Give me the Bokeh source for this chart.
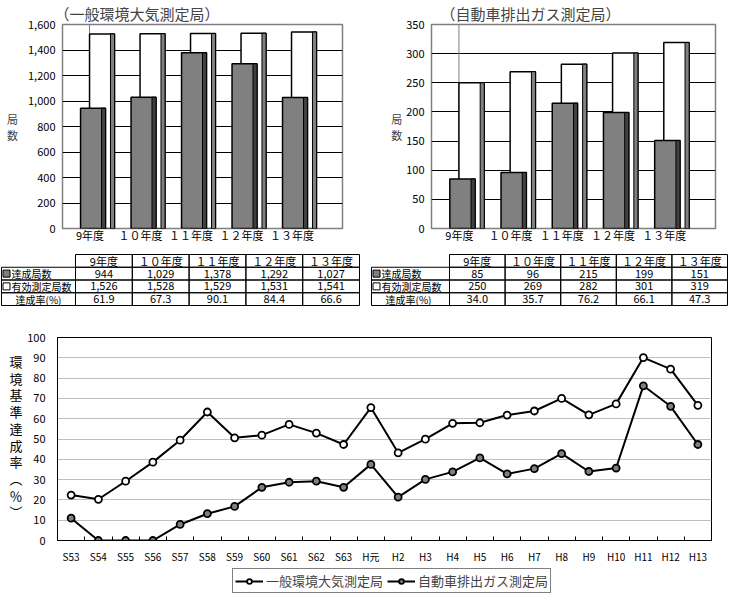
from bokeh.plotting import figure
from bokeh.models import (Range1d, FixedTicker, NumeralTickFormatter, Title, Legend,
                          LegendItem, ColumnDataSource, Span)
from bokeh.layouts import column, row
from bokeh.transform import dodge
from bokeh.embed import file_html
from bokeh.resources import INLINE
from bokeh.core.properties import value

FONT = "Noto Sans CJK JP"

# ---------------- data ----------------
years = ["9年度", "１０年度", "１１年度", "１２年度", "１３年度"]
ippan_achieved = [944, 1029, 1378, 1292, 1027]
ippan_valid = [1526, 1528, 1529, 1531, 1541]
ippan_rate = ["61.9", "67.3", "90.1", "84.4", "66.6"]
jihai_achieved = [85, 96, 215, 199, 151]
jihai_valid = [250, 269, 282, 301, 319]
jihai_rate = ["34.0", "35.7", "76.2", "66.1", "47.3"]

row_labels = ["達成局数", "有効測定局数", "達成率(%)"]

era_labels = ["S53", "S54", "S55", "S56", "S57", "S58", "S59", "S60", "S61", "S62", "S63",
              "H元", "H2", "H3", "H4", "H5", "H6", "H7", "H8", "H9", "H10", "H11", "H12", "H13"]
ippan_trend = [22.4, 20.3, 29.2, 38.6, 49.4, 63.3, 50.6, 51.9, 57.2, 52.9, 47.3,
               65.5, 43.2, 49.9, 57.7, 58.0, 61.8, 63.8, 70.0, 61.9, 67.3, 90.1, 84.4, 66.6]
jihai_trend = [11.0, 0.0, 0.0, 0.0, 7.9, 13.2, 16.8, 26.2, 28.7, 29.2, 26.2,
               37.5, 21.4, 30.1, 33.8, 40.7, 32.8, 35.4, 42.8, 34.0, 35.7, 76.2, 66.1, 47.3]
series_names = ["一般環境大気測定局", "自動車排出ガス測定局"]
y_label_chars = ["環", "境", "基", "準", "達", "成", "率", "︵", "％", "︶"]

# ---------------- styles ----------------
BW = 0.495       # bar width (category units)
GRAY_OFF = 0.06
WHITE_OFF = 0.238
SW = 0.08        # side stripe width
GRAY = "#808080"
DARK = "#404040"


def bar_chart(title, achieved, valid, ymax, ystep, comma, left, frame_w, right,
              title_offset, label_standoff):
    n = len(years)
    src = ColumnDataSource(dict(x=list(range(n)), a=achieved, v=valid))
    p = figure(frame_width=frame_w, frame_height=204,
               x_range=Range1d(-0.545, 5.0), y_range=Range1d(0, ymax),
               output_backend="svg", toolbar_location=None,
               min_border_left=left, min_border_right=right,
               min_border_top=20, min_border_bottom=20)
    p.title = Title(text=title, align="left", offset=title_offset, text_font=FONT,
                    text_font_size="15px", text_font_style="normal", standoff=1)
    p.outline_line_color = GRAY
    p.outline_line_width = 1.5
    p.xgrid.visible = False
    p.ygrid.ticker = FixedTicker(ticks=list(range(ystep, ymax, ystep)))
    p.ygrid.grid_line_color = "black"
    p.ygrid.grid_line_width = 1

    p.add_layout(Span(location=WHITE_OFF - BW / 2, dimension="height", line_color=GRAY,
                      line_width=1, level="underlay"))

    p.vbar(x=dodge("x", WHITE_OFF, range=p.x_range), top="v", width=BW, source=src,
           fill_color="white", line_color="black", line_width=1.5)
    p.vbar(x=dodge("x", WHITE_OFF + BW / 2 - SW / 2, range=p.x_range), top="v", width=SW,
           source=src, fill_color=GRAY, line_color="black", line_width=1)
    p.vbar(x=dodge("x", GRAY_OFF, range=p.x_range), top="a", width=BW, source=src,
           fill_color=GRAY, line_color="black", line_width=1.5)
    p.vbar(x=dodge("x", GRAY_OFF + BW / 2 - SW / 2, range=p.x_range), top="a", width=SW,
           source=src, fill_color=DARK, line_color="black", line_width=1)

    p.xaxis.ticker = FixedTicker(ticks=list(range(n)))
    p.xaxis.major_label_overrides = {i: y for i, y in enumerate(years)}
    p.yaxis.ticker = FixedTicker(ticks=list(range(0, ymax + 1, ystep)))
    if comma:
        p.yaxis.formatter = NumeralTickFormatter(format="0,0")
    for ax in (p.xaxis, p.yaxis):
        ax.axis_line_color = None
        ax.major_tick_line_color = None
        ax.minor_tick_line_color = None
        ax.major_tick_out = 0
        ax.major_label_text_font = FONT
        ax.major_label_text_font_size = "11px"
        ax.major_label_text_color = "black"
    p.xaxis.major_label_standoff = -2
    p.yaxis.major_label_standoff = 7
    p.yaxis.axis_label = "局\n数"
    p.yaxis.axis_label_orientation = "horizontal"
    p.yaxis.axis_label_text_font = FONT
    p.yaxis.axis_label_text_font_size = "11px"
    p.yaxis.axis_label_text_font_style = "normal"
    p.yaxis.axis_label_text_line_height = 1.0
    p.yaxis.axis_label_standoff = label_standoff
    return p


def table_fig(width, x0, w0, wc, achieved, valid, rate):
    H = 62
    y0 = 6
    rh = 12.75
    ncol = len(years)
    p = figure(width=width, height=H, x_range=Range1d(0, width), y_range=Range1d(H, 0),
               output_backend="svg", toolbar_location=None, min_border=0,
               x_axis_type=None, y_axis_type=None)
    p.outline_line_color = None
    p.grid.visible = False
    body = [[f"{v:,}" for v in achieved], [f"{v:,}" for v in valid], list(rate)]
    rows = [years] + body
    L, R, T, B = [], [], [], []
    tx, ty, tt = [], [], []
    for r in range(len(rows)):
        for c in range(ncol + 1):
            if r == 0 and c == 0:
                continue
            left = x0 if c == 0 else x0 + w0 + (c - 1) * wc
            right = x0 + w0 if c == 0 else left + wc
            L.append(left); R.append(right)
            T.append(y0 + r * rh); B.append(y0 + (r + 1) * rh)
            if c > 0:
                tx.append((left + right) / 2)
                ty.append(y0 + (r + 0.5) * rh)
                tt.append(rows[r][c - 1])
    p.quad(left=L, right=R, top=T, bottom=B, fill_color=None, line_color="black", line_width=1)
    p.text(x=tx, y=ty, text=tt, text_align="center", text_baseline="middle",
           text_font=value(FONT), text_font_size="11px", text_color="black")
    hy = [y0 + (r + 1.5) * rh for r in range(len(row_labels))]
    hx = [x0 + 10, x0 + 10, x0 + 14]
    p.text(x=hx, y=hy, text=row_labels, text_align="left", text_baseline="middle",
           text_font=value(FONT), text_font_size="10px", text_color="black")
    p.rect(x=[x0 + 5, x0 + 5], y=hy[:2], width=7, height=7,
           fill_color=[GRAY, "white"], line_color="black", line_width=1)
    return p


f1 = bar_chart("（一般環境大気測定局）", ippan_achieved, ippan_valid, 1600, 200, True,
               62, 280, 20, -8, 7)
f2 = bar_chart("（自動車排出ガス測定局）", jihai_achieved, jihai_valid, 350, 50, False,
               69, 284, 14, 9, 1)
t1 = table_fig(362, 1, 74, 56.8, ippan_achieved, ippan_valid, ippan_rate)
t2 = table_fig(367, 9, 78, 55.6, jihai_achieved, jihai_valid, jihai_rate)

# ---------------- line chart ----------------
n = len(era_labels)
xs = list(range(n))
LAB_W = 24
LH = 256
FH = 202
p3 = figure(width=729 - LAB_W, height=LH, x_range=Range1d(-0.5, n - 0.5),
            y_range=Range1d(0, 100), output_backend="svg", toolbar_location=None,
            min_border_left=33, min_border_right=18, min_border_top=27, min_border_bottom=24)
p3.outline_line_color = "black"
p3.outline_line_width = 1
p3.xgrid.visible = False
p3.ygrid.ticker = FixedTicker(ticks=list(range(10, 100, 10)))
p3.ygrid.grid_line_color = "#c0c0c0"
p3.ygrid.grid_line_width = 1

line_style = dict(line_color="black", line_width=2)
mark_style = dict(size=7, line_color="black", line_width=1.8)
fills = ["white", GRAY]
for ys, fc in zip([ippan_trend, jihai_trend], fills):
    p3.line(xs, ys, **line_style)
for ys, fc in zip([ippan_trend, jihai_trend], fills):
    p3.scatter(xs, ys, fill_color=fc, **mark_style)

p3.xaxis.ticker = FixedTicker(ticks=xs, minor_ticks=[i - 0.5 for i in range(n + 1)])
p3.xaxis.major_label_overrides = {i: lab for i, lab in enumerate(era_labels)}
p3.xaxis.major_tick_line_color = None
p3.xaxis.major_tick_out = 0
p3.xaxis.minor_tick_line_color = "black"
p3.xaxis.minor_tick_in = 4
p3.xaxis.minor_tick_out = 0
p3.xaxis.major_label_standoff = 8
p3.yaxis.ticker = FixedTicker(ticks=list(range(0, 101, 10)))
p3.yaxis.major_tick_line_color = None
p3.yaxis.major_tick_out = 0
p3.yaxis.minor_tick_line_color = None
p3.yaxis.major_label_standoff = 12
for ax in (p3.xaxis, p3.yaxis):
    ax.axis_line_color = "black"
    ax.major_label_text_font = FONT
    ax.major_label_text_color = "black"
p3.xaxis.major_label_text_font_size = "10px"
p3.yaxis.major_label_text_font_size = "11px"

# vertical stacked y-axis title as its own narrow panel (its frame is aligned to p3's frame)
ylab = figure(width=LAB_W, height=LH, x_range=Range1d(0, LAB_W), y_range=Range1d(FH, 0),
              output_backend="svg", toolbar_location=None, min_border=0,
              x_axis_type=None, y_axis_type=None)
ylab.outline_line_color = None
ylab.grid.visible = False
ylab.text(x=[15.5] * len(y_label_chars),
          y=[24 + 16.6 * i for i in range(len(y_label_chars))],
          text=y_label_chars, text_align="center", text_baseline="middle",
          text_font=value(FONT), text_font_size="13px", text_color="black")

# legend panel (same glyph styles as the series)
LEGH = 27
nan = float("nan")
legfig = figure(width=729, height=LEGH, x_range=Range1d(0, 1), y_range=Range1d(0, 1),
                output_backend="svg", toolbar_location=None, min_border=0,
                x_axis_type=None, y_axis_type=None)
legfig.outline_line_color = None
legfig.grid.visible = False
items = []
for name, fc in zip(series_names, fills):
    lr = legfig.line([nan, nan], [nan, nan], **line_style)
    sr = legfig.scatter([nan], [nan], fill_color=fc, **mark_style)
    items.append(LegendItem(label=name, renderers=[lr, sr]))
legend = Legend(items=items, orientation="horizontal", location=(232, 0),
                border_line_color="black", border_line_width=1,
                label_text_font=FONT, label_text_font_size="13px",
                glyph_width=28, glyph_height=12, padding=2, spacing=4,
                label_standoff=3, margin=0)
legfig.add_layout(legend, "center")

layout = column(row(f1, f2), row(t1, t2), row(ylab, p3), legfig)
open("out.html", "w").write(file_html(layout, INLINE))
